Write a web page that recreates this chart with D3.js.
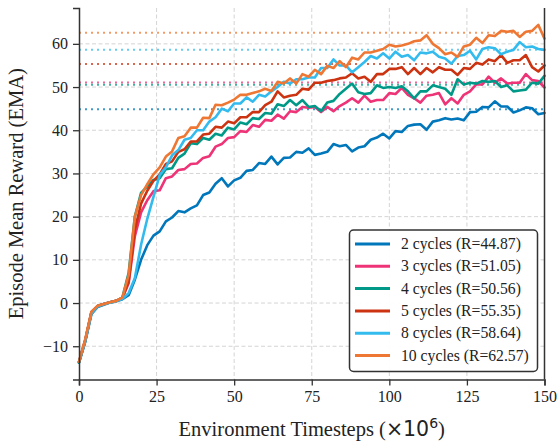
<!DOCTYPE html>
<html>
<head>
<meta charset="utf-8">
<script src="https://cdn.jsdelivr.net/npm/d3@7"></script>
<style>
    body { margin: 0; background: #fff; }
    text { font-family: "Liberation Serif", "Times New Roman", serif; fill: #222; }
</style>
</head>
<body>
<div id="chart"></div>
<script>
// timesteps in millions
const timesteps = [0, 2, 4, 6, 8, 10, 12, 14, 16, 18, 20, 22, 24, 26, 28, 30, 32, 34, 36, 38,
    40, 42, 44, 46, 48, 50, 52, 54, 56, 58, 60, 62, 64, 66, 68, 70, 72, 74, 76, 78,
    80, 82, 84, 86, 88, 90, 92, 94, 96, 98, 100, 102, 104, 106, 108, 110, 112, 114, 116, 118,
    120, 122, 124, 126, 128, 130, 132, 134, 136, 138, 140, 142, 144, 146, 148, 150];

const cycles2 = [-13.8, -9.0, -2.6, -0.9, -0.4, 0.1, 0.4, 0.9, 1.8, 5.4,
    10.0, 13.4, 15.6, 16.6, 18.9, 19.8, 21.3, 21.0, 21.9, 22.6,
    25.0, 25.6, 27.6, 28.9, 27.0, 28.4, 29.0, 30.6, 30.8, 32.4,
    32.2, 33.9, 32.1, 33.6, 33.7, 35.0, 34.8, 35.8, 34.3, 34.6,
    35.0, 36.8, 36.3, 36.6, 35.1, 36.0, 36.3, 37.8, 38.3, 39.2,
    38.1, 39.8, 39.6, 41.0, 41.3, 41.4, 40.1, 42.0, 42.3, 42.8,
    42.5, 42.7, 42.3, 44.2, 44.3, 45.4, 45.3, 46.7, 45.5, 45.5,
    44.1, 44.6, 45.3, 45.1, 43.7, 44.0];

const cycles3 = [-13.6, -8.7, -2.2, -0.7, -0.2, 0.2, 0.5, 1.2, 4.6, 15.5,
    21.0, 23.8, 25.9, 26.1, 28.9, 29.3, 30.8, 31.0, 32.2, 32.3,
    33.6, 34.0, 36.2, 36.8, 38.2, 38.4, 39.8, 39.6, 41.2, 40.8,
    42.4, 42.2, 43.6, 42.7, 44.4, 44.2, 45.4, 45.2, 45.4, 44.2,
    45.4, 44.4, 45.6, 46.4, 47.4, 46.4, 48.0, 46.6, 47.0, 47.0,
    48.6, 48.4, 49.8, 48.2, 47.4, 46.4, 48.0, 48.2, 48.6, 46.0,
    47.4, 46.2, 48.2, 49.0, 50.6, 50.6, 52.4, 51.0, 52.0, 50.8,
    51.0, 51.0, 53.0, 51.6, 51.4, 49.9];

const cycles4 = [-13.8, -8.8, -2.2, -0.7, -0.2, 0.2, 0.5, 1.3, 7.0, 20.0,
    25.5, 27.0, 28.5, 28.9, 31.0, 31.2, 33.6, 34.6, 37.0, 36.8,
    38.2, 37.8, 39.2, 38.8, 40.6, 40.2, 41.8, 41.4, 42.8, 42.6,
    44.0, 43.8, 46.0, 45.6, 47.0, 45.8, 47.0, 45.4, 45.6, 44.4,
    46.4, 46.8, 48.4, 49.6, 50.8, 48.8, 48.4, 48.6, 50.4, 49.8,
    50.0, 49.8, 50.2, 49.0, 47.4, 49.0, 49.0, 50.4, 50.0, 49.6,
    48.2, 51.8, 50.6, 51.0, 50.8, 51.4, 51.2, 51.4, 50.0, 50.4,
    49.0, 49.2, 49.4, 51.0, 50.8, 52.6];

const cycles5 = [-13.6, -8.6, -2.1, -0.7, -0.2, 0.2, 0.5, 1.2, 5.0, 17.0,
    23.0, 26.0, 28.3, 29.8, 32.2, 32.8, 35.0, 35.6, 37.4, 37.4,
    39.0, 39.2, 40.8, 40.6, 42.0, 41.6, 43.0, 43.0, 44.2, 44.2,
    45.8, 46.6, 49.0, 47.6, 48.0, 48.2, 49.6, 49.4, 51.0, 51.0,
    51.4, 51.6, 52.0, 52.2, 53.2, 52.0, 52.4, 51.2, 53.0, 53.0,
    54.2, 54.2, 54.6, 53.0, 54.4, 53.0, 54.4, 53.4, 54.6, 54.0,
    54.0, 52.8, 54.4, 54.2, 55.6, 55.2, 56.4, 56.0, 57.4, 55.6,
    56.2, 56.2, 57.4, 54.6, 53.6, 55.0];

const cycles8 = [-13.6, -8.8, -2.4, -0.8, -0.3, 0.1, 0.4, 1.0, 2.3, 5.8,
    13.5, 19.5, 24.6, 29.6, 31.4, 34.2, 35.4, 37.8, 38.2, 40.0,
    40.0, 42.0, 43.0, 45.0, 44.4, 46.2, 46.2, 47.6, 46.6, 48.2,
    47.8, 49.0, 50.0, 51.2, 50.8, 51.8, 51.8, 52.2, 52.2, 54.4,
    54.4, 56.4, 55.0, 55.0, 53.4, 54.6, 55.8, 57.2, 56.6, 57.8,
    56.6, 58.2, 57.0, 57.4, 56.2, 58.0, 57.8, 58.2, 57.0, 56.6,
    55.4, 57.2, 57.4, 58.4, 56.4, 58.8, 59.2, 59.0, 57.6, 58.2,
    58.6, 60.4, 59.2, 59.4, 58.8, 58.6];

const cycles10 = [-13.6, -8.4, -2.0, -0.6, -0.2, 0.2, 0.5, 1.3, 6.5, 20.0,
    25.0, 27.5, 29.8, 31.4, 33.9, 35.1, 38.2, 38.6, 40.6, 40.6,
    42.9, 42.8, 45.9, 45.8, 46.4, 47.1, 48.2, 48.2, 48.6, 49.0,
    49.6, 49.1, 51.2, 50.8, 52.0, 50.8, 53.0, 52.4, 54.0, 53.0,
    54.9, 54.4, 56.0, 54.6, 56.8, 56.4, 58.0, 58.0, 58.4, 58.8,
    59.8, 59.4, 59.6, 60.0, 60.6, 60.8, 62.0, 60.0, 59.0, 57.6,
    58.0, 57.0, 59.4, 59.8, 61.4, 60.2, 62.0, 61.8, 63.0, 62.8,
    63.0, 61.6, 62.8, 63.0, 64.4, 61.2];

const labels = ["2 cycles", "3 cycles", "4 cycles", "5 cycles", "8 cycles", "10 cycles"];
const finalR = [44.87, 51.05, 50.56, 55.35, 58.64, 62.57];
const colors = ["#0077BB", "#EE3377", "#009988", "#CC3311", "#33BBEE", "#EE7733"];
const seriesValues = [cycles2, cycles3, cycles4, cycles5, cycles8, cycles10];

const xTicks = [0, 25, 50, 75, 100, 125, 150];
const yTicks = [-10, 0, 10, 20, 30, 40, 50, 60];

const width = 560;
const height = 448;
const plotL = 79, plotR = 544.5, plotT = 8, plotB = 379.5;

const svg = d3.select("#chart")
    .append("svg")
    .attr("width", width)
    .attr("height", height);

const x = d3.scaleLinear().domain([0, 150]).range([plotL, plotR]);
const y = d3.scaleLinear().domain([-17.7, 68.3]).range([plotB, plotT]);

// grid
const grid = svg.append("g");
grid.selectAll(".gx")
    .data(xTicks.slice(1, -1))
    .join("line")
    .attr("x1", d => x(d)).attr("x2", d => x(d))
    .attr("y1", plotT).attr("y2", plotB)
    .attr("stroke", "#d4d4d4")
    .attr("stroke-width", 1)
    .attr("stroke-dasharray", "4,2.5");
grid.selectAll(".gy")
    .data(yTicks)
    .join("line")
    .attr("x1", plotL).attr("x2", plotR)
    .attr("y1", d => y(d)).attr("y2", d => y(d))
    .attr("stroke", "#d4d4d4")
    .attr("stroke-width", 1)
    .attr("stroke-dasharray", "4,2.5");

// final reward reference lines
svg.append("g")
    .selectAll("line")
    .data(finalR)
    .join("line")
    .attr("x1", x(0)).attr("x2", x(150))
    .attr("y1", d => y(d)).attr("y2", d => y(d))
    .attr("stroke", (d, i) => colors[i])
    .attr("stroke-opacity", 0.75)
    .attr("stroke-width", 2)
    .attr("stroke-dasharray", "2,4");

// curves
const line = d3.line()
    .x((d, i) => x(timesteps[i]))
    .y(d => y(d));

svg.append("g")
    .selectAll("path")
    .data(seriesValues)
    .join("path")
    .attr("d", line)
    .attr("fill", "none")
    .attr("stroke", (d, i) => colors[i])
    .attr("stroke-width", 2.6)
    .attr("stroke-linejoin", "round")
    .attr("stroke-linecap", "round");

// axes
const xAxis = svg.append("g")
    .attr("transform", `translate(0,${plotB})`)
    .call(d3.axisBottom(x).tickValues(xTicks).tickSize(6).tickPadding(5));
const yAxis = svg.append("g")
    .attr("transform", `translate(${plotL},0)`)
    .call(d3.axisLeft(y).tickValues(yTicks).tickSize(6).tickPadding(5)
        .tickFormat(d => d < 0 ? "\u2212" + Math.abs(d) : d));

[xAxis, yAxis].forEach(a => {
    a.select(".domain").attr("stroke", "#333").attr("stroke-width", 1.5);
    a.selectAll(".tick line").attr("stroke", "#333").attr("stroke-width", 1.3);
    a.selectAll(".tick text")
        .style("font-family", "'Liberation Serif', serif")
        .style("font-size", "16px")
        .attr("fill", "#222");
});

// right spine
svg.append("line")
    .attr("x1", plotR).attr("x2", plotR)
    .attr("y1", plotT).attr("y2", plotB)
    .attr("stroke", "#333")
    .attr("stroke-width", 1.5);

// axis labels
const xl = svg.append("text")
    .attr("x", (plotL + plotR) / 2)
    .attr("y", 436)
    .attr("text-anchor", "middle")
    .style("font-size", "20.5px");
xl.append("tspan").text("Environment Timesteps (");
xl.append("tspan").style("font-family", "'DejaVu Sans', sans-serif").text("\u00d710");
xl.append("tspan").style("font-family", "'DejaVu Sans', sans-serif")
    .style("font-size", "14px").attr("dy", -8).text("6");
xl.append("tspan").attr("dy", 8).text(")");

svg.append("text")
    .attr("transform", "rotate(-90)")
    .attr("x", -(plotT + plotB) / 2)
    .attr("y", 23)
    .attr("text-anchor", "middle")
    .style("font-size", "20.5px")
    .text("Episode Mean Reward (EMA)");

// legend
const lg = svg.append("g");
lg.append("rect")
    .attr("x", 349.5).attr("y", 230)
    .attr("width", 188).attr("height", 141.5)
    .attr("rx", 4)
    .attr("fill", "#fff")
    .attr("fill-opacity", 0.95)
    .attr("stroke", "#333")
    .attr("stroke-width", 1.5);

const rows = lg.selectAll(".row")
    .data(labels)
    .join("g")
    .attr("transform", (d, i) => `translate(0,${244 + i * 22.3})`);
rows.append("line")
    .attr("x1", 355).attr("x2", 390)
    .attr("stroke", (d, i) => colors[i])
    .attr("stroke-width", 3);
rows.append("text")
    .attr("x", 401)
    .attr("y", 5)
    .style("font-size", "15.7px")
    .text((d, i) => `${d} (R=${finalR[i].toFixed(2)})`);
</script>
</body>
</html>
